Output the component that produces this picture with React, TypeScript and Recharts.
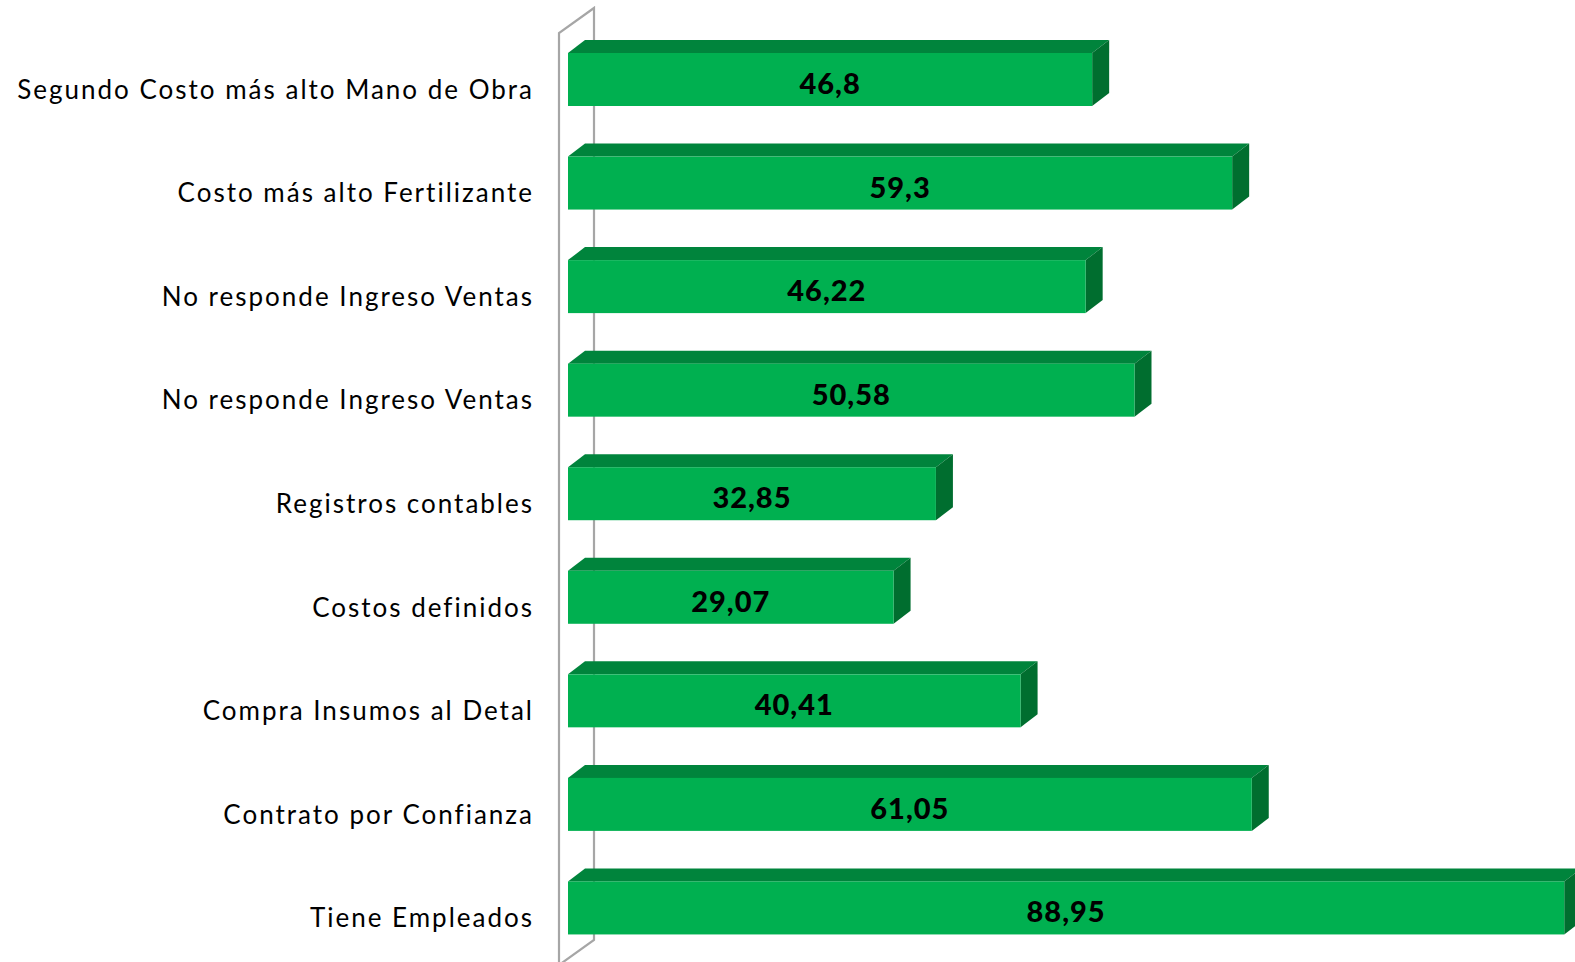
import React from "react";
import { BarChart, Bar, XAxis, YAxis, LabelList, usePlotArea } from "recharts";

const categories = [
  "Segundo Costo más alto Mano de Obra",
  "Costo más alto Fertilizante",
  "No responde Ingreso Ventas",
  "No responde Ingreso Ventas ",
  "Registros contables",
  "Costos definidos",
  "Compra Insumos al Detal",
  "Contrato por Confianza",
  "Tiene Empleados",
];
const values = [46.8, 59.3, 46.22, 50.58, 32.85, 29.07, 40.41, 61.05, 88.95];

const data = categories.map((c, i) => ({ name: c, value: values[i] }));

const FRONT = "#00B050";
const TOP = "#00843C";
const SIDE = "#006E2F";
const DX = 17;
const DY = 13;
const FONT = "Lato, 'Open Sans', sans-serif";

const Bar3D = (props: any) => {
  const { x, y, width, height } = props;
  if (width == null || width <= 0) return null;
  const top = `M${x},${y} L${x + DX},${y - DY} L${x + width + DX},${y - DY} L${x + width},${y} Z`;
  const side = `M${x + width},${y} L${x + width + DX},${y - DY} L${x + width + DX},${y + height - DY} L${x + width},${y + height} Z`;
  return (
    <g>
      <path d={top} fill={TOP} />
      <path d={side} fill={SIDE} />
      <rect x={x} y={y} width={width} height={height} fill={FRONT} />
    </g>
  );
};

const Wall = () => {
  const pa: any = usePlotArea ? usePlotArea() : null;
  if (!pa) return null;
  const L = pa.x;
  const T = pa.y;
  const B = pa.y + pa.height;
  const fx = L - 9;
  const bx = L + 26;
  const d = `M${fx},${B + 8} L${fx},${T + 5} L${bx},${T - 20} L${bx},${B - 20} L${fx},${B + 5}`;
  return <path d={d} fill="none" stroke="#A6A6A6" strokeWidth={2.2} />;
};

const CatTick = (props: any) => {
  const { x, y, payload } = props;
  return (
    <text
      x={x - 26}
      y={y + 9}
      textAnchor="end"
      dominantBaseline="central"
      fontFamily={FONT}
      fontSize={26}
      letterSpacing={2}
      fill="#000"
    >
      {String(payload.value).trim()}
    </text>
  );
};

const ValueLabel = (props: any) => {
  const { x, y, width, height, value } = props;
  return (
    <text
      x={x + width / 2}
      y={y + height / 2 + 3}
      textAnchor="middle"
      dominantBaseline="central"
      fontFamily={FONT}
      fontWeight={900}
      fontSize={29}
      letterSpacing={1}
      fill="#000"
    >
      {String(value).replace(".", ",")}
    </text>
  );
};

export default function App() {
  return (
    <div style={{ position: "absolute", left: 0, top: 0, width: 1575, height: 962, overflow: "hidden", background: "#fff" }}>
      <BarChart
        width={1700}
        height={962}
        data={data}
        layout="vertical"
        margin={{ top: 28, right: 12, bottom: 2, left: 0 }}
      >
        <XAxis type="number" domain={[0, 100]} hide />
        <YAxis
          type="category"
          dataKey="name"
          width={568}
          axisLine={false}
          tickLine={false}
          tick={<CatTick />}
          interval={0}
        />
        <Wall />
        <Bar dataKey="value" barSize={53} shape={<Bar3D />} isAnimationActive={false}>
          <LabelList dataKey="value" content={<ValueLabel />} />
        </Bar>
      </BarChart>
    </div>
  );
}
